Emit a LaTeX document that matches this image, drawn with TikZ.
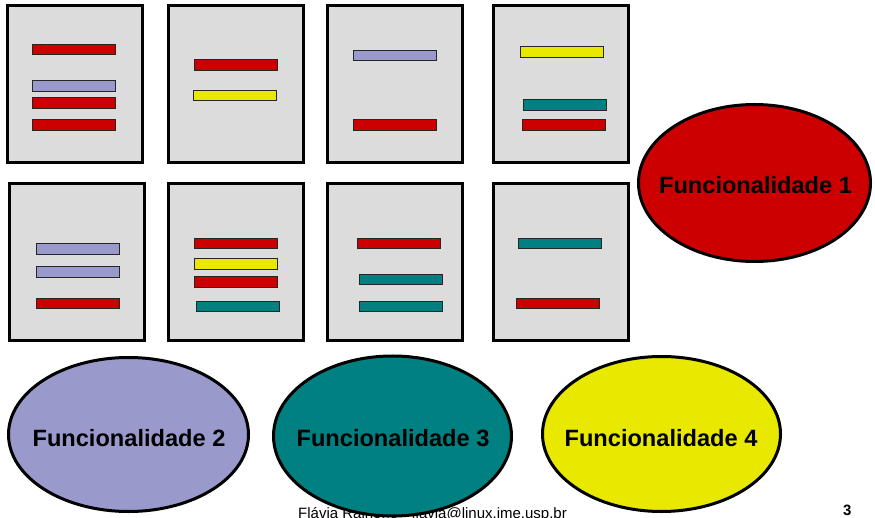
\documentclass[tikz,border=0pt]{standalone}
\usepackage{fontspec}
\setmainfont{Liberation Sans}
\usetikzlibrary{shapes.geometric}
\definecolor{cred}{HTML}{CC0000}
\definecolor{clav}{HTML}{9999CC}
\definecolor{cteal}{HTML}{008080}
\definecolor{cyel}{HTML}{E8E800}
\definecolor{cpage}{HTML}{DCDCDC}
\tikzset{
  page/.style={draw=black, line width=3pt, fill=cpage, minimum width=135pt, minimum height=157pt, inner sep=0pt},
  bar/.style={draw=black!85, line width=0.8pt, minimum width=83pt, minimum height=10.7pt, inner sep=0pt},
  func/.style={ellipse, draw=black, line width=3pt, inner sep=0pt},
  functext/.style={inner sep=0pt, font=\fontsize{23.6}{28}\selectfont\bfseries, text=black}
}
\begin{document}
\begin{tikzpicture}[x=1pt,y=-1pt]
\useasboundingbox (0,0) rectangle (875,518);
% pages
\node[page] (p1) at (75,84) {};
\node[page] (p2) at (236,84) {};
\node[page] (p3) at (395,84) {};
\node[page] (p4) at (561,84) {};
\node[page] (p5) at (77,262) {};
\node[page] (p6) at (236,262) {};
\node[page] (p7) at (395,262) {};
\node[page] (p8) at (561,262) {};
% page 1
\node[bar, fill=cred] (p1a) at (74,49.5) {};
\node[bar, fill=clav] (p1b) at (73.5,86) {};
\node[bar, fill=cred] (p1c) at (73.5,103) {};
\node[bar, fill=cred] (p1d) at (73.5,125) {};
% page 2
\node[bar, fill=cred] (p2a) at (236,65) {};
\node[bar, fill=cyel] (p2b) at (234.5,95.5) {};
% page 3
\node[bar, fill=clav] (p3a) at (394.5,55.5) {};
\node[bar, fill=cred] (p3b) at (395,125) {};
% page 4
\node[bar, fill=cyel] (p4a) at (561.5,52) {};
\node[bar, fill=cteal] (p4b) at (565,105) {};
\node[bar, fill=cred] (p4c) at (563.5,125) {};
% page 5
\node[bar, fill=clav] (p5a) at (77.5,249) {};
\node[bar, fill=clav] (p5b) at (77.5,272) {};
\node[bar, fill=cred] (p5c) at (77.5,303.5) {};
% page 6
\node[bar, fill=cred] (p6a) at (236,243.5) {};
\node[bar, fill=cyel] (p6b) at (236,264) {};
\node[bar, fill=cred] (p6c) at (236,282) {};
\node[bar, fill=cteal] (p6d) at (238,306.5) {};
% page 7
\node[bar, fill=cred] (p7a) at (398.5,243.5) {};
\node[bar, fill=cteal] (p7b) at (401,279.5) {};
\node[bar, fill=cteal] (p7c) at (400.5,306.5) {};
% page 8
\node[bar, fill=cteal] (p8a) at (560,243.5) {};
\node[bar, fill=cred] (p8b) at (558,303.5) {};
% footer (partly hidden by ellipse)
\node[anchor=base west, inner sep=0pt, font=\fontsize{15}{18}\selectfont] (foot) at (298,518.5) {Flávia Rainone - flavia@linux.ime.usp.br};
\node[anchor=base west, inner sep=0pt, font=\fontsize{15}{18}\selectfont\bfseries] (pnum) at (843,515.5) {3};
% ellipses
\node[func, fill=cred, minimum width=232pt, minimum height=157pt] (f1) at (754.5,183) {};
\node[func, fill=clav, minimum width=240pt, minimum height=154pt] (f2) at (128.5,434.5) {};
\node[func, fill=cteal, minimum width=238pt, minimum height=160pt] (f3) at (392.5,436) {};
\node[func, fill=cyel, minimum width=238pt, minimum height=155pt] (f4) at (661.5,434) {};
\node[functext] (t1) at (755.5,185) {Funcionalidade 1};
\node[functext] (t2) at (129,438) {Funcionalidade 2};
\node[functext] (t3) at (393,438) {Funcionalidade 3};
\node[functext] (t4) at (661,438) {Funcionalidade 4};
\end{tikzpicture}
\end{document}
